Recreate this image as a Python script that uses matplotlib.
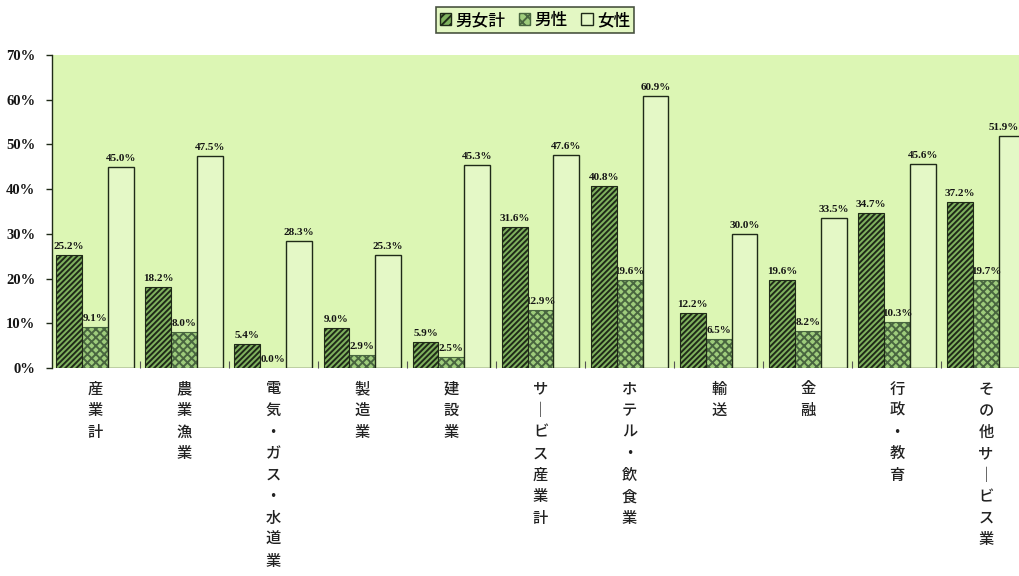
import matplotlib
matplotlib.use("Agg")
import matplotlib.pyplot as plt
from matplotlib.patches import Patch
import numpy as np

# ---- data -------------------------------------------------------------
categories = ["産業計", "農業漁業", "電気・ガス・水道業", "製造業", "建設業",
              "サービス産業計", "ホテル・飲食業", "輸送", "金融", "行政・教育",
              "その他サービス業"]
total = [25.2, 18.2, 5.4, 9.0, 5.9, 31.6, 40.8, 12.2, 19.6, 34.7, 37.2]
male = [9.1, 8.0, 0.0, 2.9, 2.5, 12.9, 19.6, 6.5, 8.2, 10.3, 19.7]
female = [45.0, 47.5, 28.3, 25.3, 45.3, 47.6, 60.9, 30.0, 33.5, 45.6, 51.9]
series_names = ["男女計", "男性", "女性"]
ytick_values = [0, 10, 20, 30, 40, 50, 60, 70]

# ---- style ------------------------------------------------------------
plt.rcParams["font.family"] = ["Noto Sans CJK JP", "DejaVu Sans"]
plt.rcParams["hatch.linewidth"] = 1.4
BG = "#DCF6B4"
DARK = "#1F2A18"
TOT_FACE = "#7FB25E"
MALE_FACE = "#9ECC7C"
FEM_FACE = "#E4F8C6"
num_font = dict(family="Liberation Serif", weight="bold")

fig = plt.figure(figsize=(10.2, 5.76), dpi=100)
W, H = 1020.0, 576.0
ax = fig.add_axes([52 / W, 208 / H, (W - 52) / W, 313 / H])
ax.set_facecolor(BG)

x = np.arange(len(categories))
width = 0.29
offset = 0.29

# men bar labels sit behind the total bars, so bars get a higher zorder
ax.bar(x - offset, total, width, facecolor=TOT_FACE, edgecolor=DARK,
       hatch="//////", linewidth=0.8, zorder=3)
ax.bar(x, male, width, facecolor=MALE_FACE, edgecolor="#496640",
       hatch="xxxx", linewidth=0.8, zorder=2)
ax.bar(x + offset, female, width, facecolor=FEM_FACE, edgecolor=DARK,
       linewidth=1.0, zorder=2)

def put_labels(xs, vals, z, last_right=False):
    n = len(vals)
    for i, (xi, v) in enumerate(zip(xs, vals)):
        txt = f"{v:.1f}%"
        if last_right and i == n - 1:
            # keep the rightmost label inside the figure edge
            ax.annotate(txt, xy=(1.0, v + 0.9), xycoords=("axes fraction", "data"),
                        xytext=(-1, 0), textcoords="offset points",
                        ha="right", va="bottom", fontsize=8, color="#151515",
                        zorder=z, annotation_clip=False, **num_font)
        else:
            ax.text(xi, v + 0.9, txt, ha="center", va="bottom",
                    fontsize=8, color="#151515", zorder=z, clip_on=False,
                    **num_font)

put_labels(x - offset, total, 4)
put_labels(x, male, 2.5)
put_labels(x + offset, female, 4, last_right=True)

ax.set_xlim((52 - 95) / 89.1, (1020 - 95) / 89.1)
ax.set_ylim(0, 70)

ax.set_yticks(ytick_values)
ax.set_yticklabels([f"{v}%" for v in ytick_values], fontsize=10.5,
                   color="#151515", **num_font)
ax.tick_params(axis="y", direction="out", length=4, width=1, color=DARK, pad=8)

# vertical (stacked) category labels
def vertical(s):
    return "\n".join("｜" if ch == "ー" else ch for ch in s)

ax.set_xticks(x)
ax.set_xticklabels([vertical(c) for c in categories], fontsize=11,
                   linespacing=1.35, color="#222222", weight="medium")
ax.tick_params(axis="x", length=0, pad=9)
ax.set_xticks(x[:-1] + 0.5, minor=True)
ax.tick_params(axis="x", which="minor", direction="in", length=5, width=0.8,
               color="#555555")

for side in ["top", "right", "bottom"]:
    ax.spines[side].set_visible(False)
ax.spines["left"].set_color(DARK)
ax.spines["left"].set_linewidth(1.0)

handles = [
    Patch(facecolor=TOT_FACE, edgecolor=DARK, hatch="////"),
    Patch(facecolor=MALE_FACE, edgecolor="#496640", hatch="xxx"),
    Patch(facecolor=FEM_FACE, edgecolor=DARK),
]
leg = fig.legend(handles, series_names, loc="center",
                 bbox_to_anchor=(535 / W, 1 - 20 / H), ncol=3,
                 frameon=True, fancybox=False, handlelength=0.7,
                 handleheight=0.7, handletextpad=0.25, columnspacing=0.8,
                 borderpad=0.25, prop=dict(family="Noto Sans CJK JP",
                                           size=12, weight="medium"))
leg.get_frame().set_facecolor(BG)
leg.get_frame().set_edgecolor(DARK)
leg.get_frame().set_linewidth(1.2)

fig.savefig("out.png", dpi=100, facecolor="white")
